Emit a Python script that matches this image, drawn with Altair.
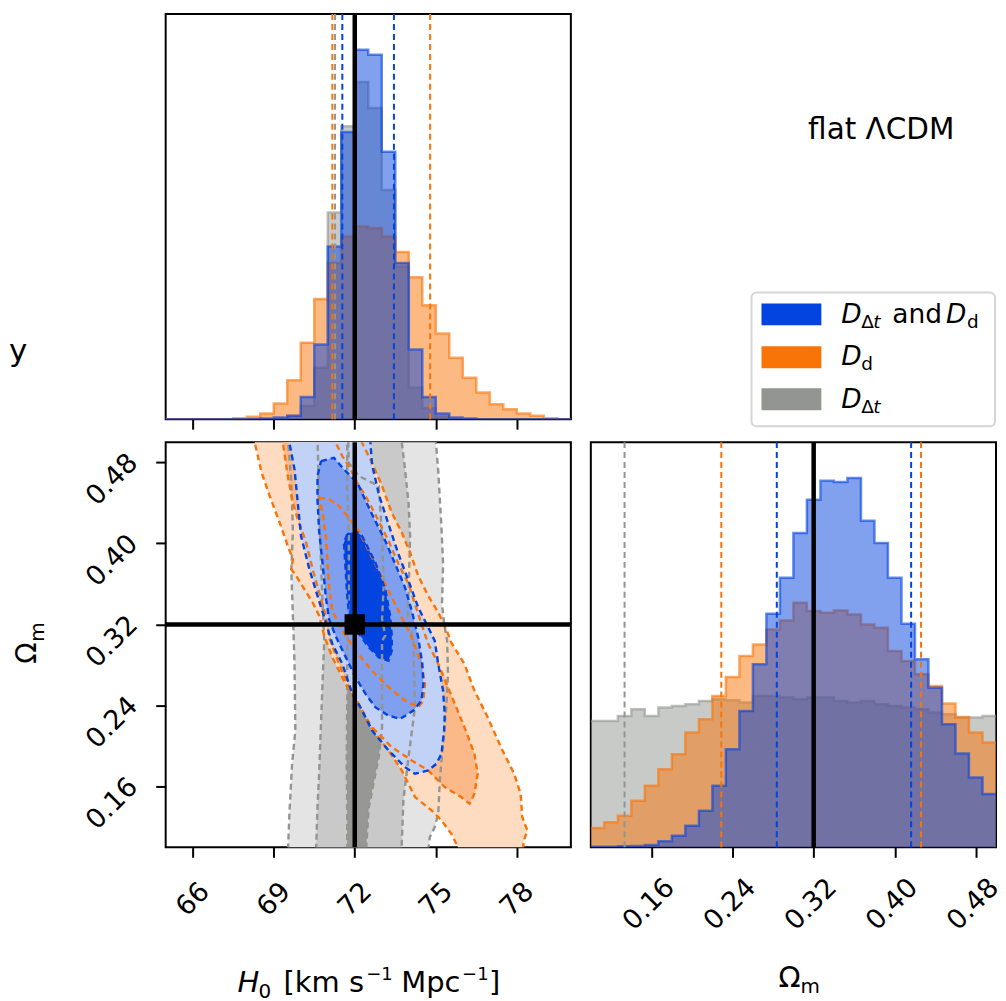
import altair as alt
import pandas as pd

FONT = "DejaVu Sans"
BLUE = "#0343df"
ORANGE = "#f97306"
GREY = "#929591"

# ---------------- 1-D histograms (heights, arbitrary units) ----------------
h0_bin_left = [65.0, 65.5, 66.0, 66.5, 67.0, 67.5, 68.0, 68.5, 69.0, 69.5,
               70.0, 70.5, 71.0, 71.5, 72.0, 72.5, 73.0, 73.5, 74.0, 74.5,
               75.0, 75.5, 76.0, 76.5, 77.0, 77.5, 78.0, 78.5, 79.0, 79.5]
h0_bin_end = 80.0
h0_blue = [0, 0, 0, 0, 0, 0, 0, 2, 5, 10, 67, 225, 520, 865, 1112, 1097, 805, 470, 210, 67,
           17, 5, 2, 0, 0, 0, 0, 0, 0, 0]
h0_orange = [0, 0, 0, 0, 0, 3, 7, 17, 47, 117, 230, 362, 470, 550, 580, 575, 550, 503, 427, 343,
             258, 185, 125, 80, 45, 30, 17, 10, 3, 0]
h0_grey = [0, 0, 0, 0, 0, 0, 0, 0, 0, 10, 40, 155, 622, 882, 1015, 937, 690, 460, 95, 33,
           8, 0, 0, 0, 0, 0, 0, 0, 0, 0]

om_bin_left = [0.1000, 0.1133, 0.1267, 0.1400, 0.1533, 0.1667, 0.1800, 0.1933, 0.2067, 0.2200,
               0.2333, 0.2467, 0.2600, 0.2733, 0.2867, 0.3000, 0.3133, 0.3267, 0.3400, 0.3533,
               0.3667, 0.3800, 0.3933, 0.4067, 0.4200, 0.4333, 0.4467, 0.4600, 0.4733, 0.4867]
om_bin_end = 0.50
om_blue = [2, 2, 3, 4, 7, 18, 35, 65, 110, 185, 295, 410, 550, 702, 810, 945, 1045, 1102, 1098, 1110,
           982, 915, 810, 672, 565, 480, 370, 282, 210, 160]
om_orange = [58, 75, 95, 140, 185, 235, 280, 345, 385, 455, 512, 575, 610, 655, 682, 735, 710, 705, 712, 700,
             670, 660, 590, 560, 520, 485, 432, 392, 345, 315]
om_grey = [380, 380, 395, 415, 395, 420, 425, 430, 440, 445, 442, 435, 455, 455, 450, 445, 450, 450, 440, 435,
           440, 430, 425, 420, 415, 405, 400, 390, 390, 395]

# 68% interval markers
h0_q_blue = [71.54, 73.45]
h0_q_orange = [71.17, 74.79]
h0_q_grey = [71.27]
om_q_blue = [0.2836, 0.4162]
om_q_orange = [0.2288, 0.4260]
om_q_grey = [0.1333]

h0_true = [72.0]
om_true = [0.32]

h0_ticks = [66, 69, 72, 75, 78]
om_ticks = [0.16, 0.24, 0.32, 0.40, 0.48]

# ---------------- 2-D credible contours (H0, Omega_m) ----------------
grey_outer = [(69.52, 0.517), (69.52, 0.504), (69.65, 0.4616), (69.71, 0.4123), (69.65, 0.3729),
              (69.73, 0.3138), (69.77, 0.2810), (69.80, 0.2153), (69.68, 0.1824), (69.58, 0.1332),
              (69.52, 0.0905), (74.69, 0.0905), (74.78, 0.1102), (74.96, 0.1200), (75.09, 0.1332),
              (75.15, 0.1660), (75.27, 0.2054), (75.39, 0.2383), (75.45, 0.2711), (75.42, 0.3039),
              (75.31, 0.3204), (75.23, 0.3401), (75.27, 0.3795), (75.21, 0.4156), (75.09, 0.4714),
              (74.99, 0.5043), (74.96, 0.517)]
grey_mid = [(70.62, 0.517), (70.62, 0.504), (70.68, 0.4452), (70.75, 0.3795), (70.83, 0.3302),
            (70.87, 0.3039), (70.81, 0.2645), (70.75, 0.2218), (70.68, 0.1726), (70.62, 0.1397),
            (70.56, 0.0905), (73.72, 0.0905), (73.80, 0.1463), (73.99, 0.1890), (74.23, 0.2383),
            (74.17, 0.3039), (73.96, 0.3286), (74.01, 0.3680), (74.05, 0.4074), (73.99, 0.4402),
            (73.86, 0.4731), (73.72, 0.5043), (73.68, 0.517)]
grey_inner = [(71.72, 0.517), (71.72, 0.4567), (71.78, 0.4074), (71.78, 0.3417), (71.72, 0.3072),
              (71.72, 0.2481), (71.70, 0.1824), (71.72, 0.1332), (71.72, 0.0905), (72.40, 0.0905),
              (72.52, 0.1397), (72.89, 0.1890), (73.01, 0.2186), (73.01, 0.3039), (73.13, 0.3089),
              (73.01, 0.3253), (73.07, 0.3581), (73.01, 0.4074), (72.89, 0.4567), (72.15, 0.4665),
              (71.78, 0.4796), (71.76, 0.4993), (71.75, 0.517)]

orange_outer = [(68.24, 0.517), (68.30, 0.4993), (68.55, 0.4698), (68.85, 0.4468), (69.22, 0.4205),
                (69.52, 0.3975), (69.71, 0.3844), (69.65, 0.3745), (69.83, 0.3680), (70.13, 0.3548),
                (70.44, 0.3417), (70.68, 0.3286), (70.87, 0.3089), (71.17, 0.2875), (71.66, 0.2612),
                (72.15, 0.2415), (72.76, 0.2120), (73.25, 0.1956), (73.74, 0.1759), (74.23, 0.1496),
                (74.84, 0.1365), (75.21, 0.1266), (75.57, 0.1135), (75.82, 0.1003), (75.88, 0.0905),
                (78.20, 0.0905), (78.26, 0.1069), (78.39, 0.1167), (78.20, 0.1299), (78.14, 0.1529),
                (77.90, 0.1726), (77.41, 0.1989), (76.92, 0.2284), (76.43, 0.2547), (76.06, 0.2810),
                (75.57, 0.3023), (75.39, 0.3154), (75.09, 0.3319), (74.72, 0.3483), (74.35, 0.3680),
                (74.05, 0.3910), (73.74, 0.4107), (73.37, 0.4304), (73.01, 0.4567), (72.64, 0.4796),
                (72.27, 0.4993), (72.15, 0.517)]
orange_mid = [(69.28, 0.517), (69.34, 0.4993), (69.52, 0.4665), (69.71, 0.4402), (69.89, 0.4238),
              (70.20, 0.4008), (70.44, 0.3745), (70.68, 0.3516), (70.93, 0.3286), (71.05, 0.3072),
              (71.42, 0.2810), (71.78, 0.2580), (72.52, 0.2218), (73.37, 0.1989), (74.11, 0.1857),
              (74.72, 0.1759), (75.33, 0.1594), (75.94, 0.1496), (76.25, 0.1430), (76.43, 0.1529),
              (76.55, 0.1726), (76.43, 0.1923), (76.06, 0.2186), (75.45, 0.2580), (75.09, 0.2810),
              (74.72, 0.3007), (74.47, 0.3204), (74.23, 0.3401), (73.99, 0.3598), (73.62, 0.3795),
              (73.25, 0.4025), (72.76, 0.4287), (72.40, 0.4468), (72.09, 0.4599), (71.78, 0.4764),
              (71.54, 0.4862), (71.30, 0.4993), (71.17, 0.517)]
orange_inner = [(70.68, 0.4452), (71.05, 0.4435), (71.42, 0.4369), (71.72, 0.4271), (72.15, 0.4123),
                (72.64, 0.3860), (73.13, 0.3598), (73.62, 0.3335), (74.11, 0.3072), (74.47, 0.2810),
                (74.60, 0.2612), (74.54, 0.2448), (74.35, 0.2383), (73.86, 0.2448), (73.25, 0.2580),
                (72.64, 0.2744), (72.03, 0.2941), (71.54, 0.3138), (71.17, 0.3335), (71.05, 0.3581),
                (70.99, 0.3811), (70.93, 0.4074), (70.81, 0.4304)]

blue_outer = [(69.52, 0.517), (69.58, 0.4993), (69.77, 0.4731), (69.89, 0.4402), (70.01, 0.4074),
              (70.32, 0.3745), (70.62, 0.3483), (70.93, 0.3220), (71.17, 0.3007), (71.54, 0.2810),
              (71.91, 0.2514), (72.21, 0.2383), (72.64, 0.2153), (73.25, 0.1956), (73.86, 0.1791),
              (74.23, 0.1726), (74.72, 0.1759), (75.02, 0.1824), (75.21, 0.1923), (75.31, 0.2153),
              (75.33, 0.2317), (75.27, 0.2547), (75.09, 0.2810), (74.96, 0.3039), (74.72, 0.3171),
              (74.35, 0.3368), (73.99, 0.3631), (73.62, 0.3893), (73.25, 0.4189), (72.89, 0.4484),
              (72.64, 0.4780), (72.58, 0.4993), (72.52, 0.517)]
blue_mid = [(70.75, 0.4813), (71.23, 0.4846), (71.60, 0.4731), (71.97, 0.4632), (72.15, 0.4567),
            (72.64, 0.4287), (73.13, 0.4025), (73.50, 0.3795), (73.86, 0.3565), (74.11, 0.3335),
            (74.35, 0.3072), (74.50, 0.2810), (74.54, 0.2612), (74.47, 0.2448), (74.17, 0.2350),
            (73.68, 0.2268), (73.25, 0.2300), (72.76, 0.2383), (72.40, 0.2514), (72.03, 0.2678),
            (71.66, 0.2880), (71.30, 0.3080), (71.05, 0.3250), (70.93, 0.3466), (70.81, 0.3795),
            (70.68, 0.4123), (70.62, 0.4435), (70.62, 0.4665)]
blue_inner = [(71.72, 0.4090), (71.60, 0.4008), (71.66, 0.3745), (71.72, 0.3483), (71.78, 0.3319),
              (71.97, 0.3171), (72.21, 0.3089), (72.52, 0.2974), (72.89, 0.2875), (73.25, 0.2842),
              (73.37, 0.2941), (73.37, 0.3089), (73.31, 0.3286), (73.13, 0.3548), (72.76, 0.3811),
              (72.27, 0.4074), (72.03, 0.4123)]

contour_sets = [
    (grey_outer, "#e4e4e4", GREY), (grey_mid, "#c8c9c8", GREY), (grey_inner, "#979896", GREY),
    (orange_outer, "#fedcc2", ORANGE), (orange_mid, "#fbb98a", ORANGE), (orange_inner, "#f98c3a", ORANGE),
    (blue_outer, "#c2d1f6", BLUE), (blue_mid, "#809fef", BLUE), (blue_inner, BLUE, BLUE),
]

# ---------------- scales & axes ----------------
W, H = 406, 406
COL_GAP, ROW_GAP = 20, 23
H0_SCALE = alt.Scale(domain=[65, 80], nice=False, zero=False)
OM_SCALE = alt.Scale(domain=[0.10, 0.50], nice=False, zero=False)
N_TOP = alt.Scale(domain=[0, 1220], nice=False, zero=True)
N_RIGHT = alt.Scale(domain=[0, 1218], nice=False, zero=True)

AX = dict(domain=False, grid=False, tickSize=10, tickWidth=2, tickColor="black",
          labelColor="black", labelFont=FONT, labelFontSize=27, labelFlush=False,
          labelOverlap=False, title="")

ax_h0_top = alt.Axis(values=h0_ticks, labels=False, **AX)
ax_h0_bottom = alt.Axis(values=h0_ticks, labelAngle=-45, labelAlign="center",
                        labelBaseline="middle", labelPadding=42, **AX)
ax_om_left = alt.Axis(values=om_ticks, format=".2f", labelAngle=-45, labelAlign="center",
                      labelBaseline="middle", labelPadding=44, labelOffset=17, **AX)
ax_om_bottom = alt.Axis(values=om_ticks, format=".2f", labelAngle=-45, labelAlign="center",
                        labelBaseline="middle", labelPadding=47, labelOffset=-3, **AX)


def txt(s, x, y, size, italic=False, align="left", angle=0):
    return alt.Chart(pd.DataFrame({"t": [s]})).mark_text(
        align=align, baseline="alphabetic", font=FONT, fontSize=size, angle=angle,
        fontStyle="italic" if italic else "normal", color="black"
    ).encode(text="t:N", x=alt.value(x), y=alt.value(y))


def box(x1, x2, y1, y2, fill, stroke="transparent", sw=0, r=0):
    return alt.Chart(pd.DataFrame({"a": [0]})).mark_rect(
        fill=fill, stroke=stroke, strokeWidth=sw, cornerRadius=r
    ).encode(x=alt.value(x1), x2=alt.value(x2), y=alt.value(y1), y2=alt.value(y2))


def hist_layers(field, lefts, end, counts, color, xenc, yscale):
    df = pd.DataFrame({field: lefts + [end], "n": counts + [counts[-1]]})
    y = alt.Y("n:Q", scale=yscale, axis=None)
    base = alt.Chart(df)
    fill = base.mark_area(interpolate="step-after", color=color, opacity=0.5, clip=True).encode(x=xenc, y=y)
    edge = base.mark_line(interpolate="step-after", color=color, opacity=0.6, strokeWidth=2.5,
                          clip=True).encode(x=xenc, y=y)
    return [fill, edge]


def vlines(field, vals, color, xenc):
    return alt.Chart(pd.DataFrame({field: vals})).mark_rule(
        color=color, strokeWidth=2, strokeDash=[6, 4]).encode(x=xenc)


def truth_x(field, vals, xenc):
    return alt.Chart(pd.DataFrame({field: vals})).mark_rule(color="black", strokeWidth=4.5).encode(x=xenc)


# ---------------- top-left: H0 marginal ----------------
xh_top = alt.X("h0:Q", scale=H0_SCALE, axis=ax_h0_top)
tl_layers = []
tl_layers += hist_layers("h0", h0_bin_left, h0_bin_end, h0_grey, GREY, xh_top, N_TOP)
tl_layers += hist_layers("h0", h0_bin_left, h0_bin_end, h0_orange, ORANGE, xh_top, N_TOP)
tl_layers += hist_layers("h0", h0_bin_left, h0_bin_end, h0_blue, BLUE, xh_top, N_TOP)
tl_layers += [vlines("h0", h0_q_grey, GREY, xh_top), vlines("h0", h0_q_orange, ORANGE, xh_top),
              vlines("h0", h0_q_blue, BLUE, xh_top), truth_x("h0", h0_true, xh_top)]
tl_layers.append(txt("y", -157, 348, 31))
tl_layers.append(box(-157, -150, -20, -15, "transparent"))   # invisible anchor for page layout
top_left = alt.layer(*tl_layers).properties(width=W, height=H)

# ---------------- bottom-left: 2-D contours ----------------
xh_bot = alt.X("h0:Q", scale=H0_SCALE, axis=ax_h0_bottom)
yo_left = alt.Y("om:Q", scale=OM_SCALE, axis=ax_om_left)


def poly_df(pts):
    pts = list(pts) + [pts[0]]
    return pd.DataFrame({"h0": [p[0] for p in pts], "om": [p[1] for p in pts],
                         "i": list(range(len(pts)))})


bl_layers = []
for pts, fillc, _ in contour_sets:
    bl_layers.append(alt.Chart(poly_df(pts)).mark_line(
        fill=fillc, stroke="transparent", strokeWidth=0, clip=True
    ).encode(x=xh_bot, y=yo_left, order="i:Q"))
for pts, _, edgec in contour_sets:
    bl_layers.append(alt.Chart(poly_df(pts)).mark_line(
        color=edgec, strokeWidth=2.4, strokeDash=[6, 4], clip=True
    ).encode(x=xh_bot, y=yo_left, order="i:Q"))
bl_layers.append(truth_x("h0", h0_true, xh_bot))
bl_layers.append(alt.Chart(pd.DataFrame({"om": om_true})).mark_rule(
    color="black", strokeWidth=4.5).encode(y=yo_left))
bl_layers.append(alt.Chart(pd.DataFrame({"h0": h0_true, "om": om_true})).mark_square(
    size=420, color="black", opacity=1).encode(x=xh_bot, y=yo_left))
# axis titles: H0 [km s^-1 Mpc^-1]  and  Omega_m (rotated)
bl_layers += [
    txt("H", 72, 551, 29, True), txt("0", 93, 557, 20),
    txt("[km s", 118, 551, 29), txt("−1", 201, 539, 18),
    txt("Mpc", 236, 551, 29), txt("−1", 297, 539, 18), txt("]", 324, 551, 29),
    txt("Ω", -130, 222, 28, angle=270), txt("m", -122, 200, 20, angle=270),
]
bottom_left = alt.layer(*bl_layers).properties(width=W, height=H)

# ---------------- bottom-right: Omega_m marginal ----------------
xo_bot = alt.X("om:Q", scale=OM_SCALE, axis=ax_om_bottom)
br_layers = []
br_layers += hist_layers("om", om_bin_left, om_bin_end, om_grey, GREY, xo_bot, N_RIGHT)
br_layers += hist_layers("om", om_bin_left, om_bin_end, om_orange, ORANGE, xo_bot, N_RIGHT)
br_layers += hist_layers("om", om_bin_left, om_bin_end, om_blue, BLUE, xo_bot, N_RIGHT)
br_layers += [vlines("om", om_q_grey, GREY, xo_bot), vlines("om", om_q_orange, ORANGE, xo_bot),
              vlines("om", om_q_blue, BLUE, xo_bot), truth_x("om", om_true, xo_bot)]
br_layers += [txt("Ω", 188, 546, 29), txt("m", 210, 552, 20)]
br_layers.append(box(415, 420, 560, 570, "transparent"))    # invisible anchor for page layout
bottom_right = alt.layer(*br_layers).properties(width=W, height=H)

# ---------------- top-right: label + legend ----------------
legend_labels = ["D_Δt and D_d", "D_d", "D_Δt"]
tr_layers = [
    txt("flat ΛCDM", 291, 125, 29.5, align="center"),
    box(161, 405, 279, 413, "white", "#d5d5d5", 2, 5),
    box(171, 231, 290, 312, BLUE),
    box(171, 231, 333, 355, ORANGE),
    box(171, 231, 375, 397, GREY),
    # row 1
    txt("D", 251, 310, 26.5, True), txt("Δ", 271, 315, 18.5), txt("t", 283, 315, 18.5, True),
    txt("and", 302, 310, 26.5), txt("D", 356, 310, 26.5, True), txt("d", 377, 315, 18.5),
    # row 2
    txt("D", 251, 352, 26.5, True), txt("d", 271, 357, 18.5),
    # row 3
    txt("D", 251, 395, 26.5, True), txt("Δ", 271, 400, 18.5), txt("t", 283, 400, 18.5, True),
]
top_right = alt.layer(*tr_layers).properties(
    width=W, height=H, view=alt.ViewBackground(stroke="transparent"))

chart = alt.concat(
    top_left, top_right, bottom_left, bottom_right,
    columns=2, spacing={"row": ROW_GAP, "column": COL_GAP}, bounds="flush"
).properties(
    padding={"left": 0, "top": -16, "right": -13, "bottom": -10}, background="white"
).configure_view(stroke="black", strokeWidth=2)

chart.save("out.html", embed_options={"renderer": "svg", "actions": False})
